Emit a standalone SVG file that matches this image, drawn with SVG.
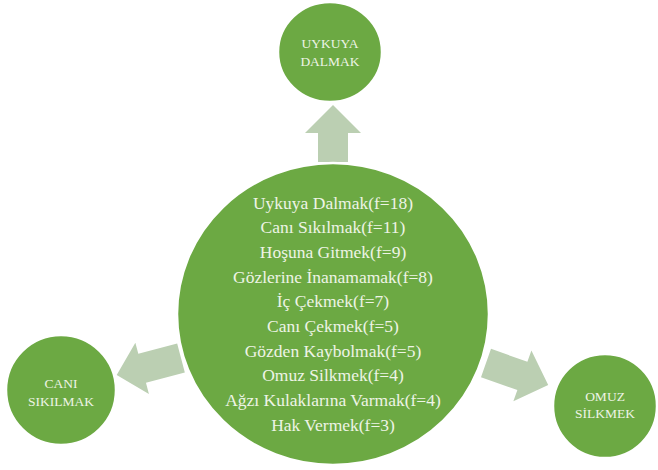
<svg xmlns="http://www.w3.org/2000/svg" width="658" height="470" viewBox="0 0 658 470">
  <style>
    .node { fill: #6CA943; stroke: #ffffff; stroke-width: 2.5; }
    .arrow { fill: #BBCFB2; stroke: none; }
    .main { font-family: "Liberation Serif", "Times New Roman", serif; font-size: 17.5px; fill: #EEF4E6; text-anchor: middle; }
    .small { font-family: "Liberation Serif", "Times New Roman", serif; font-size: 13.5px; fill: #EEF4E6; text-anchor: middle; }
  </style>
  <rect width="658" height="470" fill="#ffffff"/>
  <g id="connectors">
    <path class="arrow" transform="translate(333,162) rotate(-90)" d="M0,-15 L29,-15 L29,-28 L57,0 L29,28 L29,15 L0,15 Z"/>
    <path class="arrow" transform="translate(181,358) rotate(165.2)" d="M0,-15 L40.2,-15 L40.2,-26.5 L66.5,0 L40.2,26.5 L40.2,15 L0,15 Z"/>
    <path class="arrow" transform="translate(486,363) rotate(19.5)" d="M0,-15 L38.6,-15 L38.6,-27 L66,0 L38.6,27 L38.6,15 L0,15 Z"/>
  </g>
  <g id="center">
    <ellipse class="node" cx="333" cy="314" rx="156" ry="151"/>
    <text class="main" x="333" y="208.5">Uykuya Dalmak(f=18)</text>
    <text class="main" x="333" y="233.2">Canı Sıkılmak(f=11)</text>
    <text class="main" x="333" y="257.9">Hoşuna Gitmek(f=9)</text>
    <text class="main" x="333" y="282.6">Gözlerine İnanamamak(f=8)</text>
    <text class="main" x="333" y="307.3">İç Çekmek(f=7)</text>
    <text class="main" x="333" y="332">Canı Çekmek(f=5)</text>
    <text class="main" x="333" y="356.7">Gözden Kaybolmak(f=5)</text>
    <text class="main" x="333" y="381.4">Omuz Silkmek(f=4)</text>
    <text class="main" x="333" y="406.1">Ağzı Kulaklarına Varmak(f=4)</text>
    <text class="main" x="333" y="430.8">Hak Vermek(f=3)</text>
  </g>
  <g id="uykuya">
    <ellipse class="node" cx="330" cy="52" rx="52" ry="50"/>
    <text class="small" x="330" y="48">UYKUYA</text>
    <text class="small" x="330" y="66">DALMAK</text>
  </g>
  <g id="cani">
    <circle class="node" cx="61" cy="390" r="55"/>
    <text class="small" x="61" y="388">CANI</text>
    <text class="small" x="61" y="406">SIKILMAK</text>
  </g>
  <g id="omuz">
    <circle class="node" cx="605" cy="406" r="52"/>
    <text class="small" x="605" y="401">OMUZ</text>
    <text class="small" x="605" y="418">SİLKMEK</text>
  </g>
</svg>
